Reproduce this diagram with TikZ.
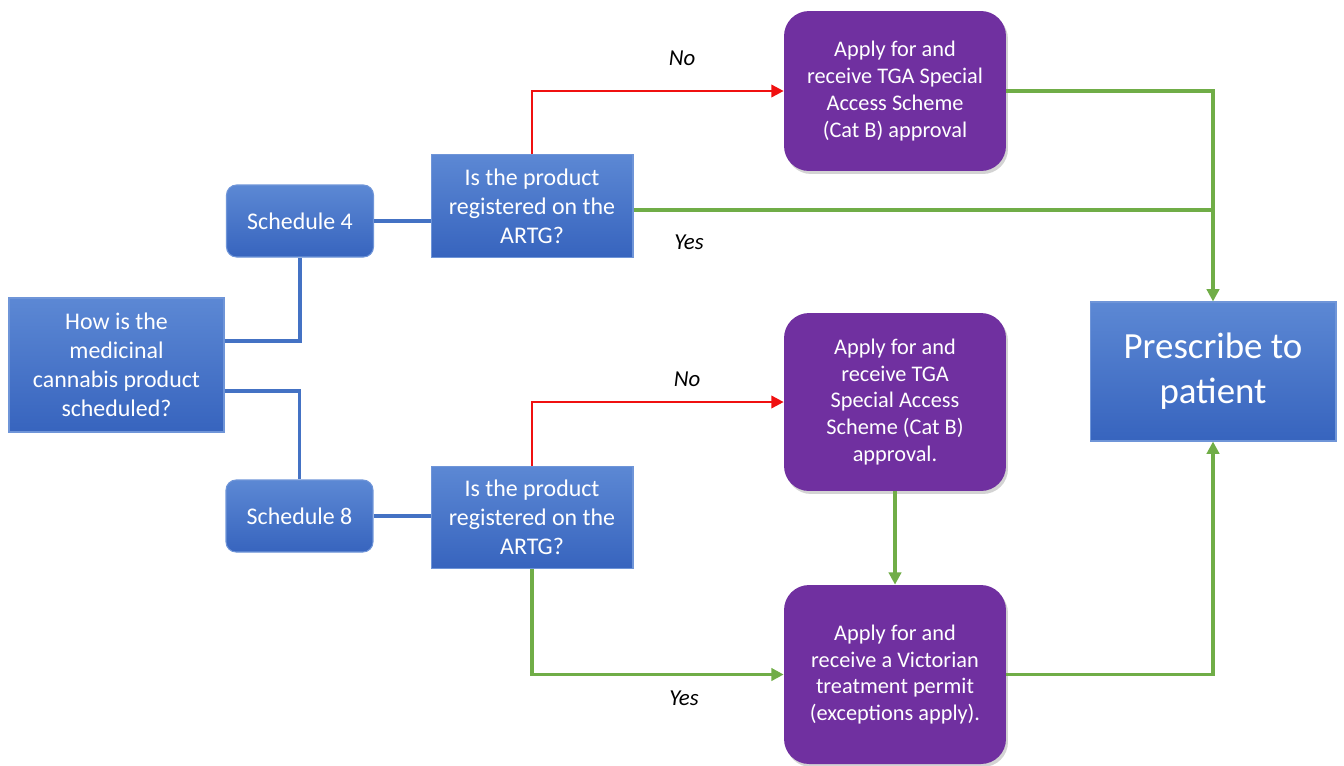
\documentclass[tikz,border=0pt]{standalone}
\usepackage{fontspec}
\setmainfont{Carlito}
\usetikzlibrary{arrows.meta,shadows}
\definecolor{bluetop}{HTML}{5C88D4}
\definecolor{bluebot}{HTML}{3764BE}
\definecolor{blueedge}{HTML}{6F95D8}
\definecolor{bluelink}{HTML}{4472C4}
\definecolor{purp}{HTML}{7030A0}
\definecolor{grn}{HTML}{70AD47}
\definecolor{rd}{HTML}{F01010}
\tikzset{
  bluebox/.style={draw=blueedge, line width=0.6pt, top color=bluetop, bottom color=bluebot,
    text=white, align=center, inner sep=2pt,
    font=\fontsize{13.6pt}{16.5pt}\selectfont},
  purpbox/.style={fill=purp, draw=none, rounded corners=0.5cm, text=white, align=center,
    minimum width=4.44cm, inner sep=2pt,
    drop shadow={shadow xshift=0.04cm, shadow yshift=-0.06cm, opacity=0.35},
    font=\fontsize{12.7pt}{15.3pt}\selectfont},
  bluelink/.style={draw=bluelink, line width=1.8pt},
  grnlink/.style={draw=grn, line width=1.8pt},
  redlink/.style={draw=rd, line width=1.5pt},
  tip/.style={-{Triangle[length=7pt,width=7pt]}},
  lbl/.style={font=\fontsize{13pt}{15pt}\selectfont\itshape, text=black}
}
\begin{document}
\begin{tikzpicture}[x=0.02cm,y=-0.02cm]
\useasboundingbox (0,0) rectangle (1344,765);
% boxes
\node[bluebox, minimum width=4.3cm, minimum height=2.68cm] (Q) at (116.5,365)
  {How is the\\medicinal\\cannabis product\\scheduled?};
\node[bluebox, rounded corners=0.2cm, minimum width=2.94cm, minimum height=1.44cm] (S4) at (300,221) {Schedule 4};
\node[bluebox, rounded corners=0.2cm, minimum width=2.94cm, minimum height=1.44cm] (S8) at (299.5,516) {Schedule 8};
\node[bluebox, minimum width=4.04cm, minimum height=2.05cm] (A1) at (532,206)
  {Is the product\\registered on the\\ARTG?};
\node[bluebox, minimum width=4.04cm, minimum height=2.05cm] (A2) at (532,517.5)
  {Is the product\\registered on the\\ARTG?};
\node[purpbox, minimum height=3.2cm] (T1) at (895,91)
  {Apply for and\\receive TGA Special\\Access Scheme\\(Cat B) approval};
\node[purpbox, minimum height=3.56cm] (T2) at (895,402)
  {Apply for and\\receive TGA\\Special Access\\Scheme (Cat B)\\approval.};
\node[purpbox, minimum height=3.58cm] (T3) at (895,674.5)
  {Apply for and\\receive a Victorian\\treatment permit\\(exceptions apply).};
\node[bluebox, minimum width=4.92cm, minimum height=2.78cm, font=\fontsize{21pt}{25.5pt}\selectfont] (P) at (1213,371.5)
  {Prescribe to\\patient};
% connectors
\draw[bluelink] ([yshift=0.48cm]Q.east) -| (S4.south);
\draw[bluelink] ([yshift=-0.52cm]Q.east) -| (S8.north);
\draw[bluelink] (S4.east) -- (S4.east -| A1.west);
\draw[bluelink] (S8.east) -- (S8.east -| A2.west);
\draw[redlink, tip] (A1.north) |- (T1.west);
\draw[redlink, tip] (A2.north) |- (T2.west);
\draw[grnlink] ([yshift=-0.08cm]A1.east) -- ([yshift=-0.08cm]A1.east -| P.north);
\draw[grnlink, tip] (T1.east) -| (P.north);
\draw[grnlink, tip] (T2.south) -- (T3.north);
\draw[grnlink, tip] (A2.south) |- (T3.west);
\draw[grnlink, tip] (T3.east) -| (P.south);
% labels
\node[lbl] (n1) at (682,58) {No};
\node[lbl] (y1) at (689,242) {Yes};
\node[lbl] (n2) at (687,379) {No};
\node[lbl] (y2) at (684,698) {Yes};
\end{tikzpicture}
\end{document}
